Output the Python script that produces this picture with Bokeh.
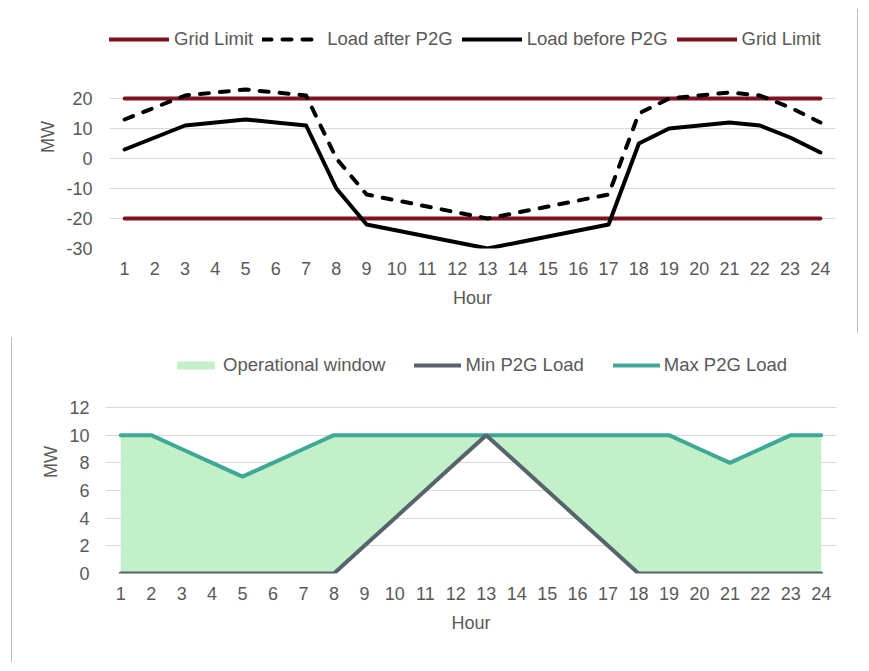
from bokeh.plotting import figure
from bokeh.models import FixedTicker, Legend, LegendItem, Range1d
from bokeh.layouts import column
from bokeh.embed import file_html
from bokeh.resources import INLINE

# Hourly data
hours = [1, 2, 3, 4, 5, 6, 7, 8, 9, 10, 11, 12, 13, 14, 15, 16, 17, 18, 19, 20, 21, 22, 23, 24]

grid_limit_upper = [20, 20, 20, 20, 20, 20, 20, 20, 20, 20, 20, 20,
                    20, 20, 20, 20, 20, 20, 20, 20, 20, 20, 20, 20]
grid_limit_lower = [-20, -20, -20, -20, -20, -20, -20, -20, -20, -20, -20, -20,
                    -20, -20, -20, -20, -20, -20, -20, -20, -20, -20, -20, -20]
load_after_p2g = [13, 17, 21, 22, 23, 22, 21, 0, -12, -14, -16, -18,
                  -20, -18, -16, -14, -12, 15, 20, 21, 22, 21, 17, 12]
load_before_p2g = [3, 7, 11, 12, 13, 12, 11, -10, -22, -24, -26, -28,
                   -30, -28, -26, -24, -22, 5, 10, 11, 12, 11, 7, 2]

min_p2g_load = [0, 0, 0, 0, 0, 0, 0, 0, 2, 4, 6, 8, 10, 8, 6, 4, 2, 0, 0, 0, 0, 0, 0, 0]
max_p2g_load = [10, 10, 9, 8, 7, 8, 9, 10, 10, 10, 10, 10, 10, 10, 10, 10, 10, 10, 10, 9, 8, 9, 10, 10]

top_ticks = [-30, -20, -10, 0, 10, 20]
bottom_ticks = [0, 2, 4, 6, 8, 10, 12]

FONT = "Liberation Sans"
TEXT = "#595959"
GRID = "#D9D9D9"
RED = "#7F1122"
TEAL = "#40A897"
SLATE = "#56646E"
FILL = "#C3F0C8"


def style_axes(p, yticks, label_standoff_y, title_standoff_y):
    p.xaxis.ticker = FixedTicker(ticks=hours)
    p.yaxis.ticker = FixedTicker(ticks=yticks)
    p.yaxis.major_label_overrides = {t: str(t) for t in yticks}
    p.xaxis.axis_label = "Hour"
    p.yaxis.axis_label = "MW"
    for ax in (p.xaxis, p.yaxis):
        ax.axis_line_color = None
        ax.major_tick_line_color = None
        ax.minor_tick_line_color = None
        ax.major_tick_out = 0
        ax.major_tick_in = 0
        ax.minor_tick_out = 0
        ax.minor_tick_in = 0
        ax.major_label_text_font = FONT
        ax.major_label_text_font_size = "18px"
        ax.major_label_text_color = TEXT
        ax.axis_label_text_font = FONT
        ax.axis_label_text_font_size = "18px"
        ax.axis_label_text_font_style = "normal"
        ax.axis_label_text_color = TEXT
    p.xaxis.major_label_standoff = 13
    p.xaxis.axis_label_standoff = 10
    p.yaxis.major_label_standoff = label_standoff_y
    p.yaxis.axis_label_standoff = title_standoff_y
    p.xgrid.grid_line_color = None
    p.ygrid.grid_line_color = GRID
    p.ygrid.grid_line_width = 1


def style_legend(lg):
    lg.orientation = "horizontal"
    lg.border_line_color = None
    lg.background_fill_alpha = 0
    lg.padding = 0
    lg.margin = 0
    lg.label_text_font = FONT
    lg.label_text_font_size = "18.5px"
    lg.label_text_color = TEXT


# Upper chart: net load before and after power-to-gas
# (the value range reaches above the ticks to leave room for the legend)
p1 = figure(width=858, height=324, output_backend="svg", toolbar_location=None,
            x_range=Range1d(0.5, 24.5), y_range=Range1d(-30, 44.33),
            min_border_left=109, min_border_right=23,
            min_border_top=16, min_border_bottom=85,
            outline_line_color=None, margin=(9, 0, 0, 0), frame_align=False,
            styles={"border-right": "1px solid #BFBFBF"})
style_axes(p1, top_ticks, 17, 5)

r_up = p1.line(hours, grid_limit_upper, line_color=RED, line_width=4, line_cap="round")
r_lo = p1.line(hours, grid_limit_lower, line_color=RED, line_width=4, line_cap="round")
r_after = p1.line(hours, load_after_p2g, line_color="black", line_width=4,
                  line_dash="9 11", line_cap="round", line_join="round")
r_before = p1.line(hours, load_before_p2g, line_color="black", line_width=4,
                   line_cap="round", line_join="round")

lg1 = Legend(items=[LegendItem(label="Grid Limit", renderers=[r_up]),
                    LegendItem(label="Load after P2G", renderers=[r_after]),
                    LegendItem(label="Load before P2G", renderers=[r_before]),
                    LegendItem(label="Grid Limit", renderers=[r_lo])],
             location=(0, 198))
style_legend(lg1)
lg1.glyph_width = 60
lg1.glyph_height = 20
lg1.label_standoff = 5
lg1.spacing = 9
p1.add_layout(lg1)

# Lower chart: operating window of the electrolyser
p2 = figure(width=858, height=325, output_backend="svg", toolbar_location=None,
            x_range=Range1d(0.5, 24.5), y_range=Range1d(0, 16.12),
            min_border_left=93, min_border_right=34,
            min_border_top=13, min_border_bottom=89,
            outline_line_color=None, margin=(4, 0, 0, 11), frame_align=False,
            styles={"border-left": "1px solid #BFBFBF"})
style_axes(p2, bottom_ticks, 16, 5)

r_win = p2.varea(x=hours, y1=min_p2g_load, y2=max_p2g_load, fill_color=FILL)
r_max = p2.line(hours, max_p2g_load, line_color=TEAL, line_width=4, line_cap="round")
r_min = p2.line(hours, min_p2g_load, line_color=SLATE, line_width=4, line_cap="round")

lg2 = Legend(items=[LegendItem(label="Operational window", renderers=[r_win]),
                    LegendItem(label="Min P2G Load", renderers=[r_min]),
                    LegendItem(label="Max P2G Load", renderers=[r_max])],
             location=(67, 197))
style_legend(lg2)
lg2.glyph_width = 47
lg2.glyph_height = 10
lg2.label_standoff = 4
lg2.spacing = 29
p2.add_layout(lg2)

layout = column(p1, p2, spacing=0)

with open("out.html", "w") as f:
    f.write(file_html(layout, INLINE))
